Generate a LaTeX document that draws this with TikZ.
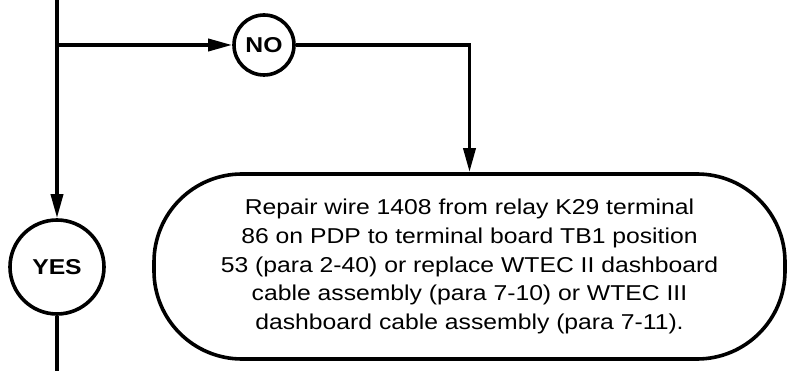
\documentclass[tikz,border=0pt]{standalone}
\usepackage{fontspec}
\setmainfont[FakeStretch=1.15]{Liberation Sans}
\usetikzlibrary{arrows.meta,calc,positioning}

\begin{document}
\begin{tikzpicture}[x=1pt,y=-1pt,
  ln/.style={line width=3.6pt},
  ar/.style={ln,-{Triangle[length=24pt,width=12pt]}},
  dec/.style={draw,ln,circle,inner sep=0pt,font=\fontsize{21.5}{24}\selectfont\bfseries},
  act/.style={draw,ln,rounded corners=88pt,minimum width=631pt,minimum height=185pt,align=center,font=\fontsize{21.5}{28.6}\selectfont}]
\useasboundingbox (0,0) rectangle (792,371);
\coordinate (top) at (57,0);
\coordinate (split) at (57,45);
\coordinate (bottom) at (57,371);
\node[dec,minimum size=60pt] (no) at (264,45) {NO};
\node[dec,minimum size=94pt] (yes) at (57,267) {YES};
\node[act] (repair) at (469.5,266.5) {Repair wire 1408 from relay K29 terminal\\86 on PDP to terminal board TB1 position\\53 (para 2-40) or replace WTEC II dashboard\\cable assembly (para 7-10) or WTEC III\\dashboard cable assembly (para 7-11).};
\draw[ar] (top) -- (yes);
\draw[ar] (split) -- (no);
\draw[ar] (no.east) -| (repair.north);
\draw[ln] (yes) -- (bottom);
\end{tikzpicture}
\end{document}
